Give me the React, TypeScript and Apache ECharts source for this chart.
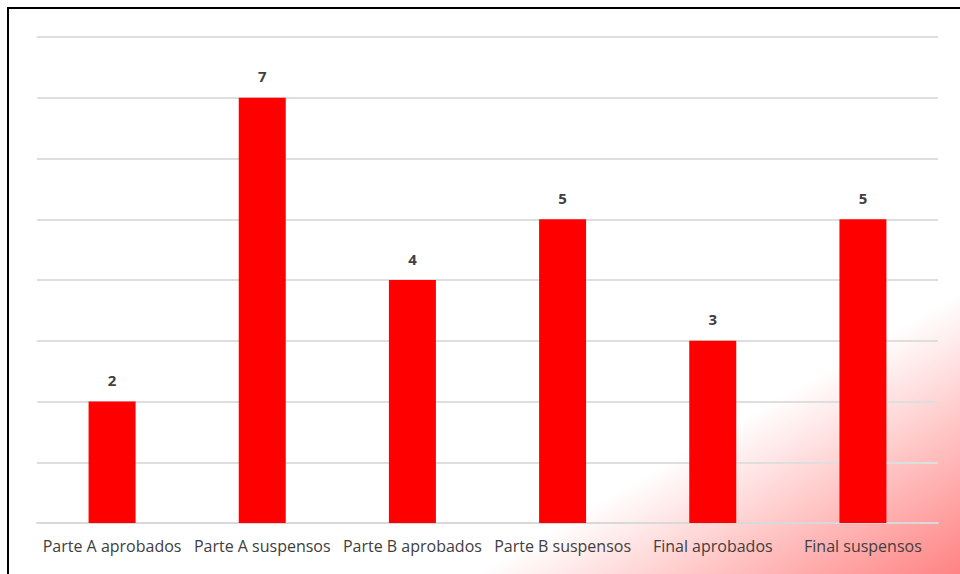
import React, { useEffect, useRef } from "react";
import * as echarts from "echarts";

const categories = [
  "Parte A aprobados",
  "Parte A suspensos",
  "Parte B aprobados",
  "Parte B suspensos",
  "Final aprobados",
  "Final suspensos",
];
const values = [2, 7, 4, 5, 3, 5];

export default function App() {
  const ref = useRef<HTMLDivElement>(null);
  useEffect(() => {
    if (!ref.current) return;
    const chart = echarts.init(ref.current, undefined, { renderer: "svg" });
    chart.setOption({
      animation: false,
      backgroundColor: "#ffffff",
      graphic: [
        {
          type: "rect",
          z: -10,
          silent: true,
          shape: { x: 0, y: 0, width: 960, height: 574 },
          style: {
            fill: new echarts.graphic.LinearGradient(
              722, 430, 860, 668,
              [
                { offset: 0, color: "rgba(255,0,0,0)" },
                { offset: 1, color: "rgba(255,0,0,0.55)" },
              ],
              true
            ),
          },
        },
        {
          type: "line",
          silent: true,
          shape: { x1: 8, y1: 8, x2: 960, y2: 8 },
          style: { stroke: "#000", lineWidth: 2 },
        },
        {
          type: "line",
          silent: true,
          shape: { x1: 8, y1: 7, x2: 8, y2: 574 },
          style: { stroke: "#000", lineWidth: 2 },
        },
      ],
      grid: { left: 37, right: 22, top: 37, bottom: 51, containLabel: false },
      xAxis: {
        type: "category",
        data: categories,
        axisLine: { lineStyle: { color: "#d9d9d9", width: 2 } },
        axisTick: { show: false },
        axisLabel: {
          color: "#404040",
          fontSize: 16,
          fontFamily: "Open Sans",
          margin: 15,
          interval: 0,
        },
      },
      yAxis: {
        type: "value",
        min: 0,
        max: 8,
        interval: 1,
        axisLabel: { show: false },
        axisLine: { show: false },
        axisTick: { show: false },
        splitLine: { lineStyle: { color: "#dedede", width: 2 } },
      },
      series: [
        {
          type: "bar",
          data: values,
          barWidth: 47,
          itemStyle: { color: "#ff0000" },
          label: {
            show: true,
            position: "top",
            distance: 14,
            color: "#404040",
            fontWeight: "bold",
            fontSize: 15,
            fontFamily: "Open Sans",
          },
        },
      ],
    });
    return () => chart.dispose();
  }, []);
  return (
    <div
      ref={ref}
      style={{ position: "absolute", left: 0, top: 0, width: 960, height: 574 }}
    />
  );
}
